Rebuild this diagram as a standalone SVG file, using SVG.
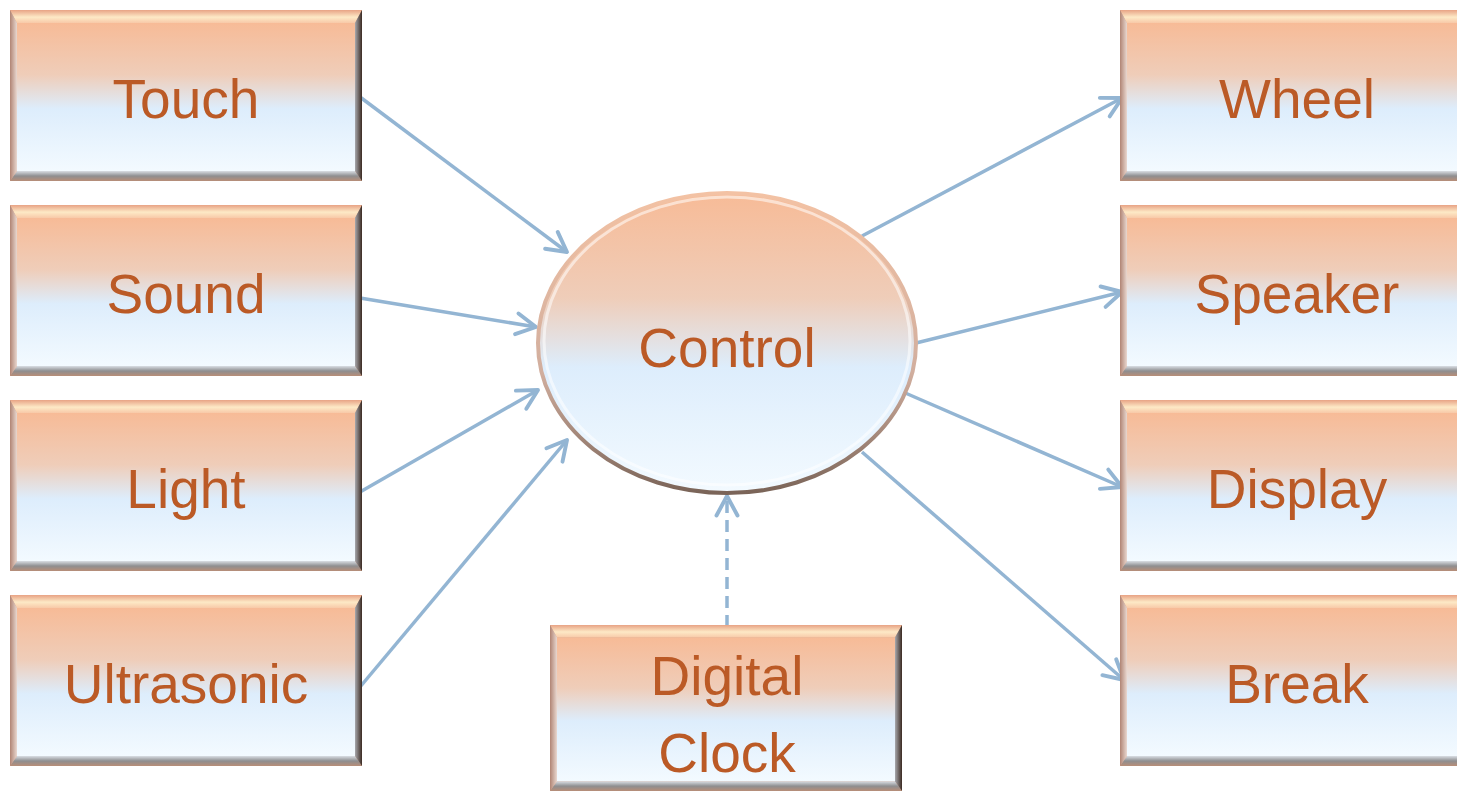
<svg xmlns="http://www.w3.org/2000/svg" width="1457" height="792" viewBox="0 0 1457 792">
  <defs>
    <linearGradient id="face" x1="0" y1="0" x2="0" y2="1">
      <stop offset="0" stop-color="#f7bb97"/>
      <stop offset="0.35" stop-color="#efcdb9"/>
      <stop offset="0.58" stop-color="#ddedfc"/>
      <stop offset="1" stop-color="#f3faff"/>
    </linearGradient>
    <linearGradient id="topBevel" x1="0" y1="0" x2="0" y2="1">
      <stop offset="0" stop-color="#e8a385"/>
      <stop offset="0.55" stop-color="#fde9c6"/>
      <stop offset="1" stop-color="#f8c9a8"/>
    </linearGradient>
    <linearGradient id="bottomBevel" x1="0" y1="0" x2="0" y2="1">
      <stop offset="0" stop-color="#d9dee4"/>
      <stop offset="0.5" stop-color="#8e8e90"/>
      <stop offset="1" stop-color="#b88e78"/>
    </linearGradient>
    <linearGradient id="leftBevel" x1="0" y1="0" x2="1" y2="0">
      <stop offset="0" stop-color="#b08474"/>
      <stop offset="1" stop-color="#e9d8d0"/>
    </linearGradient>
    <linearGradient id="rightBevel" x1="0" y1="0" x2="1" y2="0">
      <stop offset="0" stop-color="#a7a8ad"/>
      <stop offset="1" stop-color="#3b2a22"/>
    </linearGradient>
    <linearGradient id="rim" x1="0" y1="0" x2="0" y2="1">
      <stop offset="0" stop-color="#f3c2a4"/>
      <stop offset="0.6" stop-color="#d1ae9e"/>
      <stop offset="1" stop-color="#7a6458"/>
    </linearGradient>

    <!-- bevelled box face -->
    <symbol id="box" viewBox="0 0 352 171" preserveAspectRatio="none">
      <rect x="0" y="0" width="352" height="171" fill="#dca386"/>
      <rect x="7" y="13" width="338" height="148" fill="url(#face)"/>
      <polygon points="0,0 352,0 345,13 7,13" fill="url(#topBevel)"/>
      <polygon points="0,171 352,171 345,161 7,161" fill="url(#bottomBevel)"/>
      <polygon points="0,0 7,13 7,161 0,171" fill="url(#leftBevel)"/>
      <polygon points="352,0 345,13 345,161 352,171" fill="url(#rightBevel)"/>
    </symbol>

    <marker id="arrow" viewBox="0 0 20 20" refX="18" refY="10" markerWidth="30" markerHeight="30" markerUnits="userSpaceOnUse" orient="auto">
      <path d="M5,3 L18,10 L5,17" fill="none" stroke="#93b5d3" stroke-width="2.6" stroke-linecap="round" stroke-linejoin="round"/>
    </marker>
  </defs>

  <style>
    .label { font-family: "Century Gothic", "Liberation Sans", Arial, sans-serif; font-size: 55px; fill: #bb5a26; text-anchor: middle; }
    .link { stroke: #93b5d3; stroke-width: 3.5; fill: none; marker-end: url(#arrow); }
    .dashed { stroke-dasharray: 12 7; }
  </style>

  <rect width="1457" height="792" fill="#ffffff"/>

  <!-- connectors -->
  <g id="connectors">
    <line class="link" x1="360" y1="97" x2="567" y2="252"/>
    <line class="link" x1="360" y1="298" x2="536" y2="327"/>
    <line class="link" x1="360" y1="492" x2="538" y2="390"/>
    <line class="link" x1="360" y1="687" x2="567" y2="440"/>
    <line class="link" x1="862" y1="236" x2="1122" y2="98"/>
    <line class="link" x1="916" y1="343" x2="1122" y2="292"/>
    <line class="link" x1="903" y1="392" x2="1122" y2="487"/>
    <line class="link" x1="862" y1="452" x2="1124" y2="680"/>
    <line class="link dashed" x1="727" y1="627" x2="727" y2="496"/>
  </g>

  <!-- inputs -->
  <g id="touch">
    <use href="#box" x="10" y="10" width="352" height="171"/>
    <text class="label" x="186" y="118">Touch</text>
  </g>
  <g id="sound">
    <use href="#box" x="10" y="205" width="352" height="171"/>
    <text class="label" x="186" y="313">Sound</text>
  </g>
  <g id="light">
    <use href="#box" x="10" y="400" width="352" height="171"/>
    <text class="label" x="186" y="508">Light</text>
  </g>
  <g id="ultrasonic">
    <use href="#box" x="10" y="595" width="352" height="171"/>
    <text class="label" x="186" y="703">Ultrasonic</text>
  </g>

  <!-- control unit -->
  <g id="control">
    <ellipse cx="727" cy="343" rx="189" ry="150" fill="url(#face)" stroke="url(#rim)" stroke-width="4"/>
    <ellipse cx="727" cy="341" rx="183" ry="144" fill="none" stroke="#ffffff" stroke-opacity="0.55" stroke-width="3"/>
    <text class="label" x="727" y="367">Control</text>
  </g>

  <g id="digital-clock">
    <use href="#box" x="550" y="625" width="352" height="166"/>
    <text class="label" x="727" y="695">Digital</text>
    <text class="label" x="727" y="772">Clock</text>
  </g>

  <!-- outputs -->
  <g id="wheel">
    <use href="#box" x="1120" y="10" width="352" height="171"/>
    <text class="label" x="1297" y="118">Wheel</text>
  </g>
  <g id="speaker">
    <use href="#box" x="1120" y="205" width="352" height="171"/>
    <text class="label" x="1297" y="313">Speaker</text>
  </g>
  <g id="display">
    <use href="#box" x="1120" y="400" width="352" height="171"/>
    <text class="label" x="1297" y="508">Display</text>
  </g>
  <g id="break">
    <use href="#box" x="1120" y="595" width="352" height="171"/>
    <text class="label" x="1297" y="703">Break</text>
  </g>
</svg>
